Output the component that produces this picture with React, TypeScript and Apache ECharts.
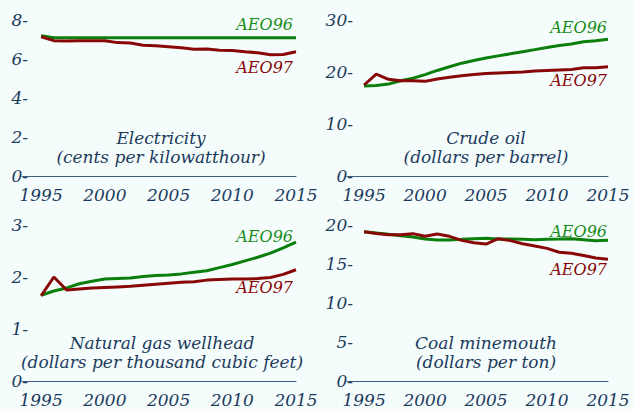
import React, { useEffect, useRef } from "react";
import * as echarts from "echarts";

const years = [1995, 1996, 1997, 1998, 1999, 2000, 2001, 2002, 2003, 2004, 2005, 2006, 2007, 2008, 2009, 2010, 2011, 2012, 2013, 2014, 2015];
const xTickLabels = [1995, 2000, 2005, 2010, 2015];

const elecAEO96 = [7.19, 7.09, 7.09, 7.09, 7.09, 7.09, 7.09, 7.09, 7.09, 7.09, 7.09, 7.09, 7.09, 7.09, 7.09, 7.09, 7.09, 7.09, 7.09, 7.09, 7.09];
const elecAEO97 = [7.14, 6.94, 6.92, 6.94, 6.94, 6.94, 6.84, 6.82, 6.70, 6.68, 6.63, 6.58, 6.50, 6.51, 6.45, 6.43, 6.37, 6.32, 6.22, 6.23, 6.37];

const oilAEO96 = [17.3, 17.4, 17.7, 18.3, 18.8, 19.5, 20.3, 21.0, 21.7, 22.2, 22.7, 23.1, 23.5, 23.9, 24.3, 24.7, 25.1, 25.4, 25.8, 26.0, 26.3];
const oilAEO97 = [17.5, 19.6, 18.6, 18.3, 18.3, 18.2, 18.65, 19.0, 19.3, 19.5, 19.7, 19.8, 19.9, 20.0, 20.2, 20.3, 20.4, 20.5, 20.8, 20.8, 21.0];

const gasAEO96 = [1.65, 1.73, 1.79, 1.87, 1.92, 1.96, 1.97, 1.98, 2.01, 2.03, 2.04, 2.06, 2.09, 2.12, 2.18, 2.24, 2.31, 2.38, 2.46, 2.56, 2.67];
const gasAEO97 = [1.64, 2.0, 1.75, 1.77, 1.79, 1.80, 1.81, 1.82, 1.84, 1.86, 1.88, 1.90, 1.91, 1.94, 1.95, 1.96, 1.96, 1.97, 1.99, 2.05, 2.14];

const coalAEO96 = [19.14, 18.97, 18.8, 18.63, 18.46, 18.2, 18.08, 18.08, 18.16, 18.25, 18.3, 18.2, 18.2, 18.16, 18.12, 18.16, 18.2, 18.25, 18.12, 17.99, 18.03];
const coalAEO97 = [19.14, 18.9, 18.76, 18.76, 18.89, 18.55, 18.85, 18.55, 18.03, 17.73, 17.56, 18.25, 18.0, 17.6, 17.3, 17.0, 16.5, 16.37, 16.1, 15.77, 15.6];

const panelTitles = [
  ["Electricity", "(cents per kilowatthour)"],
  ["Crude oil", "(dollars per barrel)"],
  ["Natural gas wellhead", "(dollars per thousand cubic feet)"],
  ["Coal minemouth", "(dollars per ton)"],
];
const seriesNames = ["AEO96", "AEO97"];
const yMax = [8, 30, 3, 20];
const yInterval = [2, 10, 1, 5];

const NAVY = "#1b3b5c";
const GREEN = "#0b7f0b";
const GREEN_TXT = "#1a8c1a";
const RED = "#880808";
const FONT = "DejaVu Serif";

export default function App() {
  const ref = useRef<HTMLDivElement>(null);
  useEffect(() => {
    if (!ref.current) return;
    const chart = echarts.init(ref.current, null, { renderer: "svg" });
    const grids = [
      { left: 22, right: 338, top: 20, bottom: 233 },
      { left: 347, right: 26, top: 20, bottom: 233 },
      { left: 22, right: 338, top: 225, bottom: 28 },
      { left: 347, right: 26, top: 225, bottom: 28 },
    ];
    const xMins = [1993.5, 1993.6, 1993.5, 1993.6];
    const data = [
      [elecAEO96, elecAEO97],
      [oilAEO96, oilAEO97],
      [gasAEO96, gasAEO97],
      [coalAEO96, coalAEO97],
    ];
    const txt = { fontFamily: FONT, fontStyle: "italic", fontSize: 17 } as any;
    const xAxis = grids.map((_, i) => ({
      type: "value",
      gridIndex: i,
      min: xMins[i],
      max: 2015,
      axisLine: { show: true, lineStyle: { color: "#3d5d7d", width: 1 } },
      axisTick: { show: false },
      splitLine: { show: false },
      axisLabel: { ...txt, color: NAVY, margin: 10, customValues: xTickLabels, formatter: (v: number) => String(v) },
    }));
    const yAxis = grids.map((_, i) => ({
      type: "value",
      gridIndex: i,
      min: 0,
      max: yMax[i],
      interval: yInterval[i],
      axisLine: { show: false },
      axisTick: { show: false },
      splitLine: { show: false },
      axisLabel: { ...txt, color: NAVY, margin: -6, formatter: "{value}-" },
    }));
    const series: any[] = [];
    data.forEach((pair, i) => {
      pair.forEach((vals, k) => {
        series.push({
          type: "line",
          name: seriesNames[k],
          xAxisIndex: i,
          yAxisIndex: i,
          data: years.map((y, j) => [y, vals[j]]),
          symbol: "none",
          lineStyle: { color: k === 0 ? GREEN : RED, width: 3 },
          z: k === 0 ? 2 : 3,
        });
      });
    });
    const titlePos = [
      { x: 161, y: 138 },
      { x: 486, y: 138 },
      { x: 162, y: 343 },
      { x: 486, y: 343 },
    ];
    const labelPos = [
      { x: 293, y96: 24, y97: 67 },
      { x: 607, y96: 27, y97: 80 },
      { x: 293, y96: 236, y97: 287 },
      { x: 607, y96: 231, y97: 269 },
    ];
    const graphic: any[] = [];
    panelTitles.forEach((t, i) => {
      const p = titlePos[i];
      graphic.push({
        type: "text",
        x: p.x,
        y: p.y,
        style: { ...txt, text: t[0], fill: NAVY, align: "center", verticalAlign: "middle" },
      });
      graphic.push({
        type: "text",
        x: p.x,
        y: p.y + 19,
        style: { ...txt, text: t[1], fill: NAVY, align: "center", verticalAlign: "middle" },
      });
      const l = labelPos[i];
      graphic.push({
        type: "text", x: l.x, y: l.y96,
        style: { ...txt, fontSize: 16, text: seriesNames[0], fill: GREEN_TXT, align: "right", verticalAlign: "middle" },
      });
      graphic.push({
        type: "text", x: l.x, y: l.y97,
        style: { ...txt, fontSize: 16, text: seriesNames[1], fill: RED, align: "right", verticalAlign: "middle" },
      });
    });
    chart.setOption({
      animation: false,
      backgroundColor: "#f5fcfc",
      grid: grids,
      xAxis,
      yAxis,
      series,
      graphic,
    } as any);
    return () => chart.dispose();
  }, []);
  return (
    <div
      ref={ref}
      style={{ position: "absolute", left: 0, top: 0, width: 634, height: 409 }}
    />
  );
}
